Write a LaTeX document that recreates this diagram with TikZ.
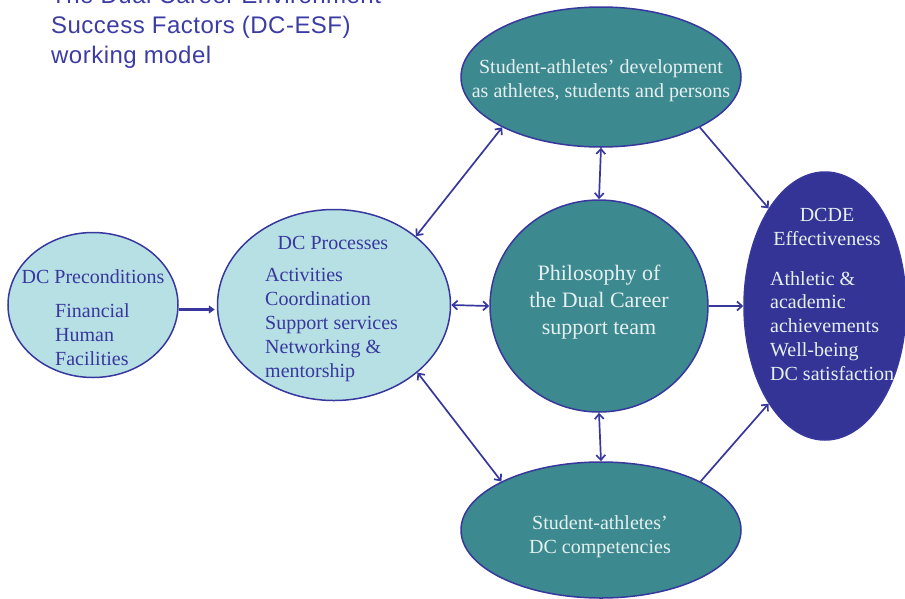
\documentclass[tikz,border=0pt]{standalone}
\usepackage{fontspec}
\setmainfont{Liberation Serif}
\newfontfamily\titlefont[LetterSpace=2]{Liberation Sans}
\usetikzlibrary{shapes.geometric,arrows.meta}
\definecolor{teal1}{RGB}{60,137,143}
\definecolor{lightc}{RGB}{183,224,228}
\definecolor{dblue}{RGB}{52,52,150}
\definecolor{edge}{RGB}{55,55,158}
\definecolor{ttl}{RGB}{60,60,165}
\definecolor{lighttext}{RGB}{230,240,240}
\tikzset{
  ell/.style={ellipse,draw=edge,line width=1.5pt,inner sep=0pt},
  lightell/.style={ell,fill=lightc},
  tealell/.style={ell,fill=teal1},
  blueell/.style={ell,fill=dblue},
  txt/.style={inner sep=0pt,font=\fontsize{20}{24}\selectfont},
  darktxt/.style={txt,text=edge},
  paletxt/.style={txt,text=lighttext},
  conn/.style={draw=edge,line width=1.7pt},
  barb/.tip={Straight Barb[length=5pt,width=9pt,line width=1.7pt]},
  tip/.style={-barb},
  tips/.style={barb-barb},
}
\begin{document}
\begin{tikzpicture}[x=1pt,y=-1pt]
\useasboundingbox (0,0) rectangle (905,598);
% title (anchor = baseline of last line)
\node[anchor=base west,inner sep=0pt,text=ttl,font=\titlefont\fontsize{24}{30}\selectfont,align=left] (title) at (51,63)
  {The Dual Career Environment\\Success Factors (DC-ESF)\\working model};
% ellipses
\node[lightell,minimum width=170pt,minimum height=145pt] (pre) at (93,305) {};
\node[lightell,minimum width=233pt,minimum height=191pt] (proc) at (334,305) {};
\node[tealell,minimum width=280pt,minimum height=140pt] (dev) at (601,77) {};
\node[tealell,minimum width=218pt,minimum height=212pt] (phil) at (599,306) {};
\node[tealell,minimum width=280pt,minimum height=136pt] (comp) at (601,530) {};
\node[blueell,minimum width=162pt,minimum height=268pt] (eff) at (825,306) {};
% texts (anchor = baseline of last line)
\node[darktxt,anchor=base] (pretitle) at (93,283) {DC Preconditions};
\node[darktxt,anchor=base west,align=left] (prelist) at (55,365) {Financial\\Human\\Facilities};
\node[darktxt,anchor=base] (proctitle) at (333,249) {DC Processes};
\node[darktxt,anchor=base west,align=left] (proclist) at (265,377) {Activities\\Coordination\\Support services\\Networking \&\\mentorship};
\node[paletxt,anchor=base,align=center] (devtxt) at (601,97) {Student-athletes’ development\\as athletes, students and persons};
\node[paletxt,anchor=base,align=center,font=\fontsize{22}{27}\selectfont] (philtxt) at (599,334) {Philosophy of\\the Dual Career\\support team};
\node[paletxt,anchor=base,align=center] (comptxt) at (600,553) {Student-athletes’\\DC competencies};
\node[paletxt,anchor=base,align=center] (efftitle) at (827,245) {DCDE\\Effectiveness};
\node[paletxt,anchor=base west,align=left,font=\fontsize{20}{23.7}\selectfont] (efflist) at (770,380) {Athletic \&\\academic\\achievements\\Well-being\\DC satisfaction};
% connectors
\draw[draw=edge,line width=3.5pt,shorten >=2pt,-{Triangle[length=6pt,width=8pt]}] ([yshift=-4.5pt]pre.east) -- ([yshift=-4.5pt]proc.west);
\draw[conn,tips] (dev.207) -- (proc.40);
\draw[conn,tips] (dev.south) -- (phil.north);
\draw[conn,tip] (dev.333) -- (eff.120.5);
\draw[conn,tips] (proc.east) -- (phil.west);
\draw[conn,tip] (phil.east) -- (eff.west);
\draw[conn,tips] (proc.-39) -- (comp.154);
\draw[conn,tips] (phil.south) -- (comp.north);
\draw[conn,tip] (comp.26) -- (eff.240.6);
\end{tikzpicture}
\end{document}
